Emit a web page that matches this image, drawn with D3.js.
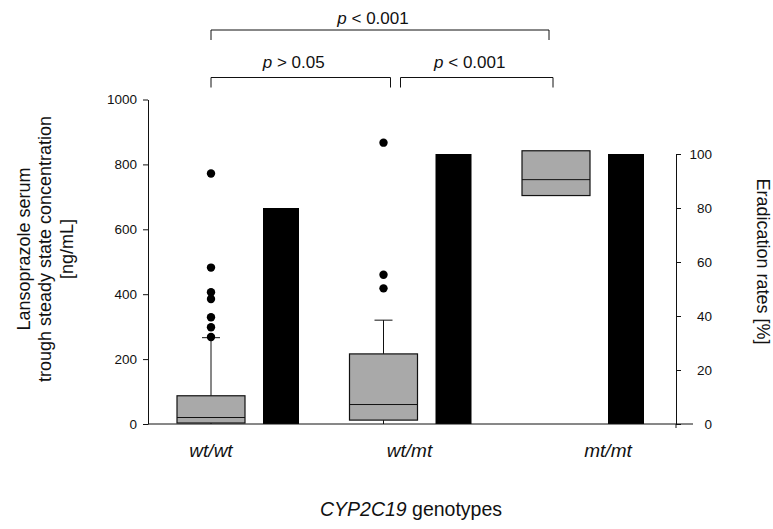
<!DOCTYPE html>
<html>
<head>
<meta charset="utf-8">
<script src="https://cdn.jsdelivr.net/npm/d3@7"></script>
<style>
  body { margin: 0; background: #fff; }
  text { font-family: Arial, "Liberation Sans", sans-serif; fill: #111; }
</style>
</head>
<body>
<div id="chart"></div>
<script>
// box plot stats per genotype (ng/mL)
const GENOTYPES = ["wt/wt", "wt/mt", "mt/mt"];
const WHISKER_LOW = [0, 0, null];
const Q1 = [3, 12, 704];
const MEDIAN = [20, 60, 753];
const Q3 = [87, 216, 842];
const WHISKER_HIGH = [266, 320, null];
const OUTLIERS = [[772, 482, 406, 385, 329, 298, 268], [867, 460, 418], []];
// eradication rates (%)
const ERADICATION = [80, 100, 100];

const CONC_TICKS = [0, 200, 400, 600, 800, 1000];
const RATE_TICKS = [0, 20, 40, 60, 80, 100];

const COMPARISONS = [
    { from: "wt/wt", to: "wt/mt", level: 0, sign: ">", p: "0.05" },
    { from: "wt/mt", to: "mt/mt", level: 0, sign: "<", p: "0.001" },
    { from: "wt/wt", to: "mt/mt", level: 1, sign: "<", p: "0.001" }
];

const W = 773, H = 529;
const boxWidth = 68, barWidth = 36, barOffset = 70, capWidth = 18;

const svg = d3.select("#chart").append("svg")
    .attr("width", W)
    .attr("height", H);

svg.append("rect").attr("width", W).attr("height", H).attr("fill", "#fff");

const x = d3.scalePoint().domain(GENOTYPES).range([211, 556]);
const labelX = d3.scalePoint().domain(GENOTYPES).range([211, 608]);
const yConc = d3.scaleLinear().domain([0, 1000]).range([424, 99.5]);
const yRate = d3.scaleLinear().domain([0, 100]).range([424, 154]);

const leftX = 148, rightX = 676;

// eradication bars
svg.append("g").selectAll("rect")
    .data(GENOTYPES)
    .join("rect")
    .attr("x", d => x(d) + barOffset - barWidth / 2)
    .attr("y", (d, i) => yRate(ERADICATION[i]))
    .attr("width", barWidth)
    .attr("height", (d, i) => yRate(0) - yRate(ERADICATION[i]))
    .attr("fill", "#000");

// box plots
const boxes = svg.append("g").selectAll("g")
    .data(GENOTYPES)
    .join("g");

boxes.each(function(g, i) {
    const el = d3.select(this);
    const cx = x(g);
    if (WHISKER_HIGH[i] != null) {
        el.append("line")
            .attr("x1", cx).attr("x2", cx)
            .attr("y1", yConc(Q3[i])).attr("y2", yConc(WHISKER_HIGH[i]))
            .attr("stroke", "#111");
        el.append("line")
            .attr("x1", cx - capWidth / 2).attr("x2", cx + capWidth / 2)
            .attr("y1", yConc(WHISKER_HIGH[i])).attr("y2", yConc(WHISKER_HIGH[i]))
            .attr("stroke", "#111");
    }
    if (WHISKER_LOW[i] != null) {
        el.append("line")
            .attr("x1", cx).attr("x2", cx)
            .attr("y1", yConc(Q1[i])).attr("y2", yConc(WHISKER_LOW[i]))
            .attr("stroke", "#111");
    }
    el.append("rect")
        .attr("x", cx - boxWidth / 2)
        .attr("y", yConc(Q3[i]))
        .attr("width", boxWidth)
        .attr("height", yConc(Q1[i]) - yConc(Q3[i]))
        .attr("fill", "#a9a9a9")
        .attr("stroke", "#111")
        .attr("stroke-width", 1.2);
    el.append("line")
        .attr("x1", cx - boxWidth / 2).attr("x2", cx + boxWidth / 2)
        .attr("y1", yConc(MEDIAN[i])).attr("y2", yConc(MEDIAN[i]))
        .attr("stroke", "#111");
    el.selectAll("circle")
        .data(OUTLIERS[i])
        .join("circle")
        .attr("cx", cx)
        .attr("cy", d => yConc(d))
        .attr("r", 4.2)
        .attr("fill", "#000");
});

// axes
const leftAxis = svg.append("g")
    .attr("transform", `translate(${leftX},0)`)
    .call(d3.axisLeft(yConc).tickValues(CONC_TICKS).tickFormat(d3.format("d"))
        .tickSize(5).tickSizeOuter(0).tickPadding(6));
leftAxis.selectAll("text").attr("font-size", 13.5).attr("font-family", null);

const rightAxis = svg.append("g")
    .attr("transform", `translate(${rightX},0)`)
    .call(d3.axisRight(yRate).tickValues(RATE_TICKS).tickSize(5).tickSizeOuter(0));
rightAxis.selectAll("text")
    .attr("font-size", 13.5)
    .attr("font-family", null)
    .attr("text-anchor", "end")
    .attr("x", 36);

svg.selectAll(".domain, .tick line").attr("stroke", "#111");

svg.append("line")
    .attr("x1", leftX).attr("x2", 693)
    .attr("y1", yConc(0)).attr("y2", yConc(0))
    .attr("stroke", "#111");
svg.append("line")
    .attr("x1", rightX).attr("x2", rightX)
    .attr("y1", yRate(0)).attr("y2", yRate(0) + 4)
    .attr("stroke", "#111");

// category labels
svg.append("g").selectAll("text")
    .data(GENOTYPES)
    .join("text")
    .attr("x", d => labelX(d))
    .attr("y", 457)
    .attr("text-anchor", "middle")
    .attr("font-size", 19)
    .attr("font-style", "italic")
    .text(d => d);

// x title
const xTitle = svg.append("text")
    .attr("x", 411)
    .attr("y", 516)
    .attr("text-anchor", "middle")
    .attr("font-size", 19.5);
xTitle.append("tspan").attr("font-style", "italic").text("CYP2C19");
xTitle.append("tspan").text(" genotypes");

// left title
const leftTitle = svg.append("g").attr("transform", "translate(0,249) rotate(-90)");
["Lansoprazole serum", "trough steady state concentration", "[ng/mL]"].forEach((line, i) => {
    leftTitle.append("text")
        .attr("x", 0)
        .attr("y", 29.5 + i * 21.5)
        .attr("text-anchor", "middle")
        .attr("font-size", 18)
        .text(line);
});

// right title
svg.append("text")
    .attr("transform", "translate(757,261.5) rotate(90)")
    .attr("text-anchor", "middle")
    .attr("font-size", 18)
    .text("Eradication rates [%]");

// significance brackets
const bracketY = [77.5, 30];
const textGap = [10, 6];
const split = x(GENOTYPES[1]) + 12;

COMPARISONS.forEach(c => {
    let x1 = x(c.from), x2 = x(c.to);
    if (c.level === 0) {
        if (c.from === GENOTYPES[1]) x1 = split + 5;
        if (c.to === GENOTYPES[1]) x2 = split - 5;
        else x2 -= 3;
    } else {
        x2 -= 7;
    }
    const y = bracketY[c.level];
    svg.append("path")
        .attr("d", `M${x1},${y + 10}V${y}H${x2}V${y + 10}`)
        .attr("fill", "none")
        .attr("stroke", "#111");
    const t = svg.append("text")
        .attr("x", (x1 + x2) / 2 - 7)
        .attr("y", y - textGap[c.level])
        .attr("text-anchor", "middle")
        .attr("font-size", 17);
    t.append("tspan").attr("font-style", "italic").text("p");
    t.append("tspan").text(` ${c.sign} ${c.p}`);
});
</script>
</body>
</html>
